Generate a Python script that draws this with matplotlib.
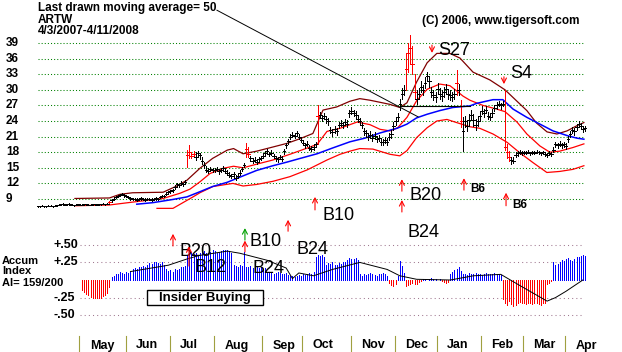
import matplotlib
matplotlib.use("Agg")
import matplotlib.pyplot as plt
from matplotlib.patches import Rectangle
from matplotlib.transforms import blended_transform_factory as blend

plt.rcParams['font.family'] = ['Liberation Sans', 'DejaVu Sans']

# ---------------- data ----------------
months = ['May', 'Jun', 'Jul', 'Aug', 'Sep', 'Oct', 'Nov', 'Dec', 'Jan', 'Feb', 'Mar', 'Apr']
month_start = [20, 42, 63, 84, 107, 126, 149, 170, 190, 211, 231, 251]
price_ticks = [9, 12, 15, 18, 21, 24, 27, 30, 33, 36, 39]
accum_ticks = [0.50, 0.25, -0.25, -0.50]
accum_tick_labels = ['+.50', '+.25', '-.25', '-.50']

close = [
    7.6, 7.6, 7.7, 7.6, 7.6, 7.7, 7.7, 7.6, 7.7, 7.8, 7.9, 8.0, 8.1, 7.9, 8.0, 8.1, 7.9, 7.8, 7.9, 8.0,
    7.9, 7.9, 8.0, 8.0, 7.9, 7.9, 8.0, 8.0, 7.9, 8.0, 8.0, 8.1, 8.0, 8.1, 8.5, 8.8, 9.0, 9.4, 9.6, 9.8, 10.0, 9.7,
    9.6, 9.3, 9.1, 9.0, 9.0, 8.9, 9.0, 9.1, 9.0, 8.9, 9.0, 9.0, 8.9, 9.0, 9.1, 9.0, 9.4, 9.6, 9.5, 10.0, 10.3,
    10.5, 10.7, 11.4, 11.8, 11.6, 12.1, 11.8, 12.3, 17.5, 18.0, 17.3, 17.6, 17.0, 17.8, 17.4, 16.4, 15.5, 14.6, 14.4, 14.8, 14.5,
    14.5, 14.8, 14.3, 14.6, 14.9, 14.4, 14.0, 13.6, 13.4, 13.8, 13.1, 13.5, 14.0, 14.8, 15.6, 18.6, 17.6, 16.8, 16.3, 16.5, 16.2, 16.6, 16.9,
    17.3, 17.8, 18.2, 17.6, 17.9, 17.2, 16.8, 16.6, 17.0, 16.7, 18.2, 19.3, 20.1, 21.0, 21.4, 21.2, 21.6, 21.0, 20.4,
    19.8, 19.3, 19.6, 18.8, 18.6, 19.0, 19.5, 25.0, 25.2, 24.6, 24.9, 24.3, 24.0, 22.2, 21.8, 22.4, 22.0, 23.3, 23.6, 23.2, 23.8, 23.5, 25.5,
    26.0, 25.6, 25.2, 24.4, 24.0, 23.3, 22.0, 21.6, 21.0, 21.4, 20.8, 21.2, 20.5, 20.8, 20.0, 19.9, 20.3, 20.0, 21.0, 21.5, 23.0,
    24.0, 24.8, 27.2, 29.2, 30.0, 34.0, 37.0, 38.0, 35.0, 29.5, 28.2, 29.2, 30.6, 30.0, 31.4, 32.6, 31.6, 29.6, 29.0, 28.6,
    30.2, 29.2, 28.8, 29.6, 30.2, 29.2, 29.0, 28.6, 29.2, 31.3, 30.0, 24.0, 22.0, 24.0, 23.0, 24.2, 25.2, 24.2, 23.2, 24.0, 25.0,
    26.0, 25.5, 26.2, 25.0, 24.8, 25.6, 26.5, 27.0, 27.3, 27.0, 27.3, 19.0, 18.0, 17.0, 16.5, 16.4, 17.5, 17.8, 18.0, 17.8,
    18.0, 17.9, 18.1, 17.8, 18.0, 17.9, 18.1, 18.0, 17.8, 18.0, 17.6, 17.5, 17.8, 17.6, 18.5, 19.5, 19.3, 19.6, 19.3, 19.5,
    19.2, 20.5, 21.5, 22.3, 22.0, 22.8, 23.4, 23.0, 22.4, 22.6,
]
high = [
    7.7, 7.7, 7.8, 7.7, 7.7, 7.8, 7.8, 7.7, 7.8, 7.9, 8.0, 8.1, 8.3, 8.1, 8.1, 8.2, 8.0, 7.9, 8.0, 8.1,
    8.0, 8.0, 8.1, 8.1, 8.0, 8.0, 8.1, 8.1, 8.0, 8.1, 8.1, 8.2, 8.1, 8.2, 8.7, 9.0, 9.2, 9.6, 9.8, 10.0, 10.2, 9.9,
    9.8, 9.5, 9.3, 9.2, 9.2, 9.1, 9.2, 9.3, 9.2, 9.1, 9.2, 9.2, 9.1, 9.2, 9.3, 9.2, 9.6, 9.8, 9.7, 10.3, 10.6,
    10.8, 11.0, 11.7, 12.1, 11.9, 12.5, 12.1, 12.6, 18.4, 19.3, 17.8, 18.3, 18.0, 18.2, 17.9, 17.0, 16.2, 15.3, 14.9, 15.2, 15.0,
    15.0, 15.2, 14.8, 15.0, 15.3, 14.9, 14.5, 14.1, 13.9, 14.2, 13.7, 14.0, 14.5, 15.2, 16.0, 19.7, 19.0, 17.3, 16.8, 17.0, 16.7, 17.1, 17.3,
    17.8, 18.3, 18.6, 18.1, 18.4, 17.7, 17.3, 17.1, 17.5, 17.2, 18.7, 19.8, 20.6, 21.5, 21.8, 21.7, 22.0, 21.5, 20.9,
    20.3, 19.8, 20.1, 19.3, 19.1, 19.5, 19.9, 27.0, 25.8, 25.2, 25.5, 24.9, 24.6, 22.9, 22.4, 23.0, 22.6, 23.9, 24.2, 23.8, 24.4, 24.1, 26.1,
    26.6, 26.2, 25.9, 25.1, 24.6, 23.9, 22.7, 22.2, 21.7, 22.0, 21.5, 21.8, 21.2, 21.4, 20.7, 20.6, 21.0, 20.7, 21.7, 22.2, 23.8,
    24.8, 25.5, 28.3, 30.3, 31.0, 37.0, 39.0, 40.5, 38.5, 33.0, 30.0, 30.3, 31.6, 31.0, 32.4, 33.5, 32.6, 30.6, 30.0, 29.6,
    31.3, 30.3, 29.9, 30.6, 31.2, 30.2, 29.9, 29.6, 30.2, 33.8, 31.2, 28.0, 24.7, 25.0, 24.2, 25.3, 26.2, 25.3, 24.3, 25.0, 26.0,
    26.8, 26.3, 26.9, 25.8, 25.6, 26.3, 27.1, 27.6, 27.8, 27.5, 27.8, 30.0, 19.5, 18.2, 17.0, 17.0, 18.0, 18.3, 18.4, 18.2,
    18.3, 18.2, 18.4, 18.1, 18.3, 18.2, 18.4, 18.3, 18.1, 18.3, 18.0, 17.9, 18.2, 18.0, 19.0, 20.0, 19.8, 20.1, 19.8, 20.0,
    19.7, 21.1, 22.1, 22.9, 22.6, 23.4, 24.0, 23.6, 23.0, 23.1,
]
low = [
    7.5, 7.5, 7.6, 7.5, 7.5, 7.6, 7.6, 7.5, 7.6, 7.7, 7.8, 7.9, 7.9, 7.8, 7.9, 7.9, 7.8, 7.7, 7.8, 7.9,
    7.8, 7.8, 7.9, 7.9, 7.8, 7.8, 7.9, 7.9, 7.8, 7.9, 7.9, 8.0, 7.9, 8.0, 8.2, 8.5, 8.8, 9.1, 9.4, 9.5, 9.7, 9.4,
    9.3, 9.1, 8.9, 8.8, 8.8, 8.7, 8.8, 8.9, 8.8, 8.7, 8.8, 8.8, 8.7, 8.8, 8.9, 8.8, 9.1, 9.3, 9.3, 9.7, 10.0,
    10.2, 10.4, 11.0, 11.4, 11.3, 11.7, 11.5, 11.9, 15.2, 16.8, 16.8, 17.0, 16.5, 17.0, 16.6, 15.8, 14.9, 14.2, 14.0, 14.3, 14.1,
    14.1, 14.3, 13.9, 14.2, 14.4, 14.0, 13.6, 13.2, 13.0, 13.3, 12.6, 13.0, 13.6, 14.3, 15.1, 17.0, 17.0, 16.3, 15.9, 16.1, 15.8, 16.2, 16.5,
    16.9, 17.3, 17.7, 17.2, 17.4, 16.8, 16.4, 16.2, 16.6, 16.3, 17.7, 18.8, 19.6, 20.5, 20.9, 20.8, 21.1, 20.5, 19.9,
    19.3, 18.8, 19.1, 18.4, 18.2, 18.5, 19.0, 19.5, 24.6, 24.0, 24.3, 23.7, 23.3, 21.6, 21.2, 21.7, 21.4, 22.7, 23.0, 22.6, 23.2, 22.9, 24.8,
    25.3, 25.0, 24.5, 23.8, 23.3, 22.6, 21.4, 21.0, 20.4, 20.8, 20.2, 20.6, 19.9, 20.2, 19.4, 19.3, 19.7, 19.4, 20.4, 20.8, 22.3,
    23.2, 24.0, 26.2, 28.2, 29.0, 30.0, 33.5, 35.0, 33.0, 28.5, 27.3, 28.3, 29.6, 29.0, 30.4, 31.6, 30.6, 28.6, 28.0, 27.6,
    29.2, 28.3, 27.9, 28.6, 29.2, 28.3, 28.1, 27.8, 28.3, 29.0, 29.0, 22.8, 18.3, 22.9, 22.0, 23.1, 24.1, 23.1, 22.2, 23.0, 24.0,
    25.3, 24.8, 25.5, 24.3, 24.1, 24.9, 25.9, 26.4, 26.8, 26.4, 26.8, 18.5, 16.8, 16.3, 15.7, 15.9, 17.0, 17.3, 17.6, 17.4,
    17.7, 17.6, 17.8, 17.5, 17.7, 17.6, 17.8, 17.7, 17.5, 17.7, 17.2, 17.1, 17.4, 17.2, 18.0, 19.0, 18.8, 19.1, 18.8, 19.0,
    18.7, 19.9, 20.9, 21.7, 21.4, 22.2, 22.8, 22.4, 21.8, 22.1,
]
red_bar_days = [34, 71, 72, 73, 74, 99, 100, 133, 175, 176, 177, 178, 179, 199, 201, 222, 223, 224]

upper_day = [17.6, 34, 39, 45, 59.5, 66, 70.8, 77, 83, 90, 93, 97.5, 104, 111.7, 118.4, 124.6, 130.7,
             135.5, 142, 148.3, 153, 157.8, 167.3, 172, 175.4, 180, 185, 189.6, 195.8, 200.6, 206.8,
             214.8, 222, 227.7, 232.4, 237, 242, 246.7, 251.5, 256.2, 259.5]
upper_band = [9.1, 9.2, 9.9, 10.2, 10.3, 11.5, 12.6, 14.9, 16.8, 18.4, 18.7, 17.7, 18.2, 19.0, 19.7, 20.6, 21.6,
              26.1, 26.7, 27.8, 28.3, 28.0, 27.2, 26.6, 27.5, 31.5, 35.2, 37.0, 37.0, 36.1, 33.4,
              31.9, 30.0, 27.8, 26.0, 23.6, 21.9, 21.5, 22.1, 23.1, 23.7]

ma21_day = [17.6, 34, 47, 59.5, 67.5, 72.3, 77, 81.8, 88, 93, 97.5, 104, 111.7, 119.8, 128, 132.7, 137.4,
            143.6, 151.7, 157.8, 162.6, 167.3, 171, 175.4, 180, 185, 191, 195.8, 199, 202, 205.3, 211.5,
            218, 222, 227.7, 232.4, 238.6, 243.3, 248, 254.3, 259.5]
ma21 = [7.7, 7.85, 8.5, 9.1, 10.1, 10.9, 12.3, 13.9, 14.9, 15.3, 15.0, 15.7, 16.5, 17.6, 18.8, 19.5, 22.0,
        22.6, 23.8, 23.3, 22.4, 22.1, 22.7, 24.7, 27.9, 30.1, 31.1, 30.8, 29.8, 28.8, 28.0, 27.0,
        26.3, 25.8, 23.8, 21.5, 19.2, 18.0, 18.2, 18.9, 19.6]

ma50_day = [47, 54.7, 64, 70.8, 77, 83, 89.9, 96, 104, 111.7, 118.4, 124.6, 132.7, 140, 148.3, 155.4,
            162.6, 170.7, 175.4, 180, 185, 191, 197.2, 205.3, 208.6, 216.3, 221, 225.8, 232.4, 238.6,
            244.8, 251.5, 256.2, 259.5]
ma50 = [8.0, 8.3, 8.9, 9.4, 10.4, 11.4, 12.2, 13.2, 14.5, 15.4, 16.1, 16.8, 17.7, 18.8, 20.0, 20.7,
        21.7, 22.6, 23.4, 24.6, 25.3, 26.0, 26.6, 26.9, 27.4, 28.1, 28.1, 26.3, 24.7, 23.4,
        22.1, 21.2, 20.7, 20.5]

lower_day = [56.6, 64.2, 73.7, 77, 83.2, 92.7, 97.5, 104, 111.7, 119.8, 128, 137.4, 143.6, 148.3, 153,
             159.2, 167.3, 172, 175.4, 180, 185, 189.6, 194.4, 199, 205.3, 210, 216.3, 223, 229,
             235.3, 241.9, 248, 254.3, 259.5]
lower_band = [7.2, 7.2, 9.4, 10.2, 11.4, 12.0, 11.5, 11.8, 12.4, 13.3, 14.6, 16.5, 17.6, 18.2, 18.7,
              18.6, 17.6, 17.3, 18.3, 20.8, 22.7, 24.0, 24.3, 23.7, 22.9, 22.6, 21.5, 19.9, 17.9,
              16.0, 14.1, 14.3, 14.7, 15.4]

accum_first_day = 21
accum = [
    -0.14, -0.17, -0.20, -0.22, -0.24, -0.25, -0.26, -0.26, -0.25, -0.26, -0.23, -0.22, -0.19, -0.10,
    0.04, 0.06, 0.08, 0.09, 0.11, 0.10, 0.08, 0.12, 0.10, 0.11,
    0.15, 0.17, 0.16, 0.19, 0.18, 0.20, 0.19,
    0.22, 0.24, 0.23, 0.25, 0.26, 0.24, 0.23, 0.25, 0.22,
    0.15, 0.13, 0.14, 0.12, 0.16, 0.14, 0.15,
    0.19, 0.18, 0.20,
    0.35, 0.38, 0.40,
    0.37, 0.39, 0.36, 0.38, 0.40, 0.41, 0.39, 0.38, 0.40, 0.42, 0.41, 0.39, 0.40, 0.41, 0.42, 0.43, 0.42, 0.41, 0.38,
    0.22, 0.20, 0.19, 0.21, 0.20,
    0.40,
    0.19, 0.18, 0.20, 0.17, 0.18, 0.19, 0.17, 0.18, 0.16, 0.17,
    0.12, 0.10, 0.11, 0.09, 0.10, 0.12, 0.10, 0.09, 0.08, 0.10, 0.07,
    0.05, 0.06, 0.04, 0.05, 0.07, 0.06, 0.08, 0.07,
    0.09, 0.10, 0.08, 0.11,
    0.33, 0.35, 0.34, 0.36, 0.33,
    0.22, 0.24, 0.23, 0.25, 0.21, 0.22, 0.24, 0.23, 0.25, 0.26,
    0.29, 0.31, 0.30, 0.30, 0.31, 0.29,
    0.08, 0.06, 0.09, 0.07, 0.08, 0.10, 0.09, 0.07, 0.06, 0.08, 0.09, 0.10, 0.08, 0.06,
    -0.04, -0.07, -0.08, -0.05,
    0.05,
    0.27, 0.20, 0.10,
    -0.08, -0.07, -0.05, -0.04, -0.06, -0.05, -0.03, -0.02,
    0.01, 0.02, 0.00, 0.02, 0.03, 0.01, 0.02, 0.00, 0.01, -0.01,
    -0.03, -0.04, -0.03,
    0.08, 0.12, 0.14, 0.16, 0.18, 0.13,
    0.08, 0.09, 0.07, 0.10, 0.08, 0.09, 0.10, 0.08, 0.09, 0.07, 0.08, 0.10, 0.09, 0.08, 0.09, 0.10, 0.09, 0.08, 0.07,
    -0.27, -0.33, -0.36, -0.30, -0.34, -0.37, -0.35, -0.33, -0.31, -0.33, -0.32, -0.34, -0.33, -0.32, -0.34, -0.33,
    -0.32, -0.34, -0.35, -0.33, -0.32,
    -0.06, -0.04, -0.02,
    0.25, 0.22, 0.23, 0.26, 0.28, 0.27, 0.30, 0.31, 0.29, 0.27, 0.30, 0.32, 0.33, 0.34, 0.35, 0.34,
]
accum_ma_day = [44, 62, 71, 77, 90, 96, 109, 118, 121, 124, 131, 140, 153, 166, 172, 180, 196, 207,
                220, 228, 235, 242, 246, 251, 259]
accum_ma = [0.12, 0.21, 0.30, 0.35, 0.41, 0.38, 0.28, 0.17, 0.02, 0.10, 0.06, 0.15, 0.25, 0.15, 0.06,
            0.01, 0.00, 0.06, 0.08, -0.06, -0.18, -0.30, -0.25, -0.16, 0.00]

# signal annotations: (label, text day, text price, bold)
signal_texts = [
    ('S27', 190.2, 37.5, False), ('S4', 224.4, 33.2, False), ('B20', 176.8, 9.6, False),
    ('B24', 175.9, 2.5, False), ('B10', 135.5, 5.9, False), ('B6', 205.4, 10.9, True),
    ('B6', 225.3, 7.8, True), ('B20', 67.5, -1.0, False), ('B12', 74.6, -4.1, False),
    ('B10', 100.8, 0.9, False), ('B24', 101.8, -4.3, False), ('B24', 123.1, -0.8, False),
]
# arrows: (day, from price, to price, colour)
signal_arrows = [
    (187.3, 38.6, 37.1, 'red'), (221.5, 32.5, 31.1, 'red'),
    (173.0, 10.5, 12.8, 'red'), (173.0, 6.5, 8.8, 'red'),
    (131.7, 6.9, 9.4, 'red'), (118.9, 2.8, 5.0, 'red'),
    (202.5, 10.7, 13.0, 'red'), (222.5, 7.7, 10.2, 'red'),
    (64.2, -0.04, 2.3, 'red'), (98.4, 1.1, 3.4, '#00a000'), (98.4, -1.2, 1.0, 'red'),
    (71.8, -3.9, -0.1, 'red'),
]
pointer_line = ([85.1, 180.7], [45.3, 24.8])
level_line = ([172.0, 205.3], [26.8, 26.8])

# ---------------- layout (pixel calibration) ----------------
W, H = 622, 352
X0, DX = 37.9, 2.104          # px of day 0, px per day
Y_REF, P_REF, PY = 199.0, 9.0, 5.2   # price 9 at y=199 px, 5.2 px per $
A_Y0, AY = 280.0, 70.4        # accum 0 at y=280 px

fig = plt.figure(figsize=(W / 100, H / 100), dpi=100)
fig.patch.set_facecolor('white')
xlim = ((0 - X0) / DX, (W - X0) / DX)

axa = fig.add_axes([0, 0, 1, 1])
axa.set_xlim(*xlim)
axa.set_ylim((A_Y0 - H) / AY, A_Y0 / AY)
axa.axis('off')

ax = fig.add_axes([0, 0, 1, 1])
ax.set_xlim(*xlim)
ax.set_ylim(P_REF + (Y_REF - H) / PY, P_REF + Y_REF / PY)
ax.axis('off')
ax.patch.set_alpha(0)

last_day = len(close) - 1
THIN = 0.68  # about one pixel

# price grid
ax.hlines(price_ticks, 0, last_day - 1, colors='#008000', linewidth=0.75, linestyles=(0, (1, 2)))
# accum grid
axa.hlines(accum_ticks, month_start[0], last_day - 1, colors='#a07890', linewidth=0.75, linestyles=(0, (1, 3)))

# accum histogram
adays = list(range(accum_first_day, accum_first_day + len(accum)))
acol = ['#0000ff' if v >= 0 else '#ff0000' for v in accum]
axa.vlines(adays, 0, accum, colors=acol, linewidth=THIN, antialiased=False)
axa.plot(accum_ma_day, accum_ma, color='black', linewidth=0.7)

# bands & moving averages
ax.plot(lower_day, lower_band, color='#ff0000', linewidth=0.9)
ax.plot(ma21_day, ma21, color='#ff0000', linewidth=0.9)
ax.plot(upper_day, upper_band, color='#800000', linewidth=0.9)
ax.plot(ma50_day, ma50, color='#0000ff', linewidth=1.1)

# price bars
days = list(range(len(close)))
bcol = ['#ff0000' if d in red_bar_days else 'black' for d in days]
ax.vlines(days, low, high, colors=bcol, linewidth=THIN, antialiased=False)
ax.hlines(close, [d - 0.6 for d in days], [d + 0.6 for d in days], colors=bcol, linewidth=THIN,
          antialiased=False)

ax.plot(*pointer_line, color='black', linewidth=0.7)
ax.plot(*level_line, color='black', linewidth=0.8)

# signals
for lab, d, p, bold in signal_texts:
    ax.text(d, p, lab, fontsize=8.5 if bold else 13, fontweight='bold' if bold else 'normal',
            ha='left', va='center', color='black')
for d, p0, p1, c in signal_arrows:
    ax.annotate('', xy=(d, p1), xytext=(d, p0),
                arrowprops=dict(arrowstyle='->,head_length=0.35,head_width=0.18', color=c,
                                lw=0.8, shrinkA=0, shrinkB=0))

# y tick labels
tp = blend(fig.transFigure, ax.transData)
for t in price_ticks:
    ax.text(6 / W, t, str(t), transform=tp, fontsize=8.5, fontweight='bold', ha='left', va='center')
ta = blend(fig.transFigure, axa.transData)
for t, lab in zip(accum_ticks, accum_tick_labels):
    axa.text(53 / W, t, lab, transform=ta, fontsize=9, fontweight='bold', ha='left', va='center')

# month separators and labels
tm = blend(ax.transData, fig.transFigure)
for ms, name in zip(month_start, months):
    ax.plot([ms - 0.3, ms - 0.3], [1 - 336 / H, 0], transform=tm, color='#a0a040', linewidth=0.8)
    ax.text(ms + 4.6, 1 - 345.5 / H, name, transform=tm, fontsize=9, fontweight='bold',
            ha='left', va='center')

# header texts
def ftext(x, y, s, **kw):
    fig.text(x / W, 1 - y / H, s, **kw)

ftext(38, 2.5, 'Last drawn moving average= 50\nARTW\n4/3/2007-4/11/2008', fontsize=8.5,
      fontweight='bold', va='top', linespacing=0.92)
ftext(422, 24, '(C) 2006, www.tigersoft.com', fontsize=8.5, fontweight='bold', va='baseline')

ftext(2, 256, 'Accum\nIndex', fontsize=8, fontweight='bold', va='top', linespacing=1.05)
ftext(2, 285.5, 'AI= 159/200', fontsize=8, fontweight='bold', va='baseline')

fig.patches.append(Rectangle((147 / W, 1 - 305 / H), 116 / W, 15 / H, transform=fig.transFigure,
                             facecolor='white', edgecolor='black', linewidth=1.0, zorder=5))
ftext(205, 297.5, 'Insider Buying', fontsize=9.5, fontweight='bold', ha='center', va='center',
      zorder=6)

fig.savefig('out.png', dpi=100, facecolor='white')
